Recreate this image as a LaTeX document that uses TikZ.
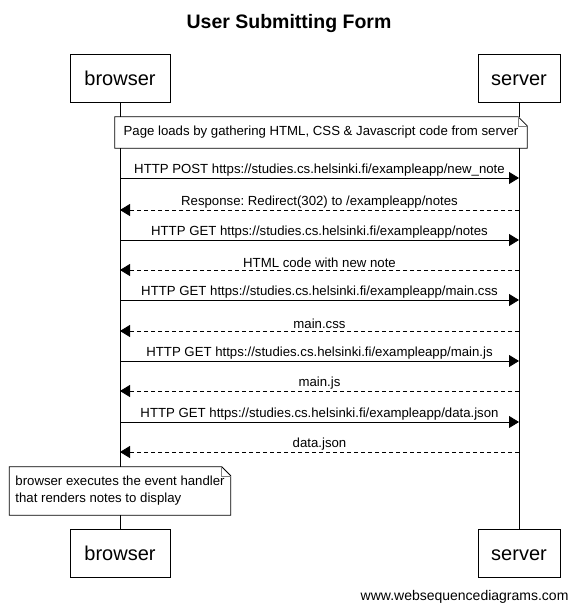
\documentclass[tikz,border=0pt]{standalone}
\usepackage{fontspec}
\setmainfont{Liberation Sans}
\usetikzlibrary{positioning,arrows.meta,calc}
\frenchspacing

\begin{document}
\begin{tikzpicture}[x=1pt,y=-1pt,>={Triangle[length=10pt,width=12pt]},
  part/.style={draw,line width=0.8pt,minimum height=48pt,text height=14.5pt,text depth=0pt,font=\fontsize{20}{24}\selectfont},
  note/.style={fill=white,minimum height=31pt,inner xsep=6pt,font=\fontsize{13.2}{17}\selectfont},
  notebd/.style={draw,line width=0.8pt},
  msg/.style={line width=0.8pt},
  rsp/.style={line width=0.8pt,dash pattern=on 4pt off 3pt},
  lbl/.style={above,inner sep=1.5pt,font=\fontsize{13.2}{15}\selectfont}]
  \useasboundingbox (0,0) rectangle (578,611);
  \node[font=\fontsize{19.5}{22}\selectfont\bfseries] (title) at (289,23) {User Submitting Form};
  % participants
  \node[part,minimum width=100pt] (bt) at (120,78) {browser};
  \node[part,minimum width=82pt] (st) at (519,78) {server};
  \node[part,minimum width=100pt] (bb) at (120,553) {browser};
  \node[part,minimum width=82pt] (sb) at (519,553) {server};
  \draw[msg] (bt) -- (bb);
  \draw[msg] (st) -- (sb);
  % note on load
  \node[note,minimum width=412pt] (n1) at (321,132.5) {Page loads by gathering HTML, CSS \& Javascript code from server};
  \draw[notebd] (n1.south west) |- ($(n1.north east)+(-9,0)$) -- ($(n1.north east)+(0,9)$) |- cycle;
  \draw[gray,line width=0.6pt] ($(n1.north east)+(-9,0)$) |- ($(n1.north east)+(0,9)$);
  % message ends
  \foreach \i/\y in {1/178,2/210,3/240,4/270,5/300,6/331,7/361,8/391,9/422,10/452} {
    \coordinate (b\i) at (120,\y);
    \coordinate (s\i) at (519,\y);
  }
  \draw[msg,->] (b1) -- node[lbl]{HTTP POST https://studies.cs.helsinki.fi/exampleapp/new\_note} (s1);
  \draw[rsp,->] (s2) -- node[lbl]{Response: Redirect(302) to /exampleapp/notes} (b2);
  \draw[msg,->] (b3) -- node[lbl]{HTTP GET https://studies.cs.helsinki.fi/exampleapp/notes} (s3);
  \draw[rsp,->] (s4) -- node[lbl]{HTML code with new note} (b4);
  \draw[msg,->] (b5) -- node[lbl]{HTTP GET https://studies.cs.helsinki.fi/exampleapp/main.css} (s5);
  \draw[rsp,->] (s6) -- node[lbl]{main.css} (b6);
  \draw[msg,->] (b7) -- node[lbl]{HTTP GET https://studies.cs.helsinki.fi/exampleapp/main.js} (s7);
  \draw[rsp,->] (s8) -- node[lbl]{main.js} (b8);
  \draw[msg,->] (b9) -- node[lbl]{HTTP GET https://studies.cs.helsinki.fi/exampleapp/data.json} (s9);
  \draw[rsp,->] (s10) -- node[lbl]{data.json} (b10);
  % note on render
  \node[note,minimum width=220pt,minimum height=48pt,align=left] (n2) at (120,491)
    {browser executes the event handler\\that renders notes to display};
  \draw[notebd] (n2.south west) |- ($(n2.north east)+(-9,0)$) -- ($(n2.north east)+(0,9)$) |- cycle;
  \draw[gray,line width=0.6pt] ($(n2.north east)+(-9,0)$) |- ($(n2.north east)+(0,9)$);
  \node[anchor=east,font=\fontsize{14}{16}\selectfont] (site) at (572,597) {www.websequencediagrams.com};
\end{tikzpicture}
\end{document}
